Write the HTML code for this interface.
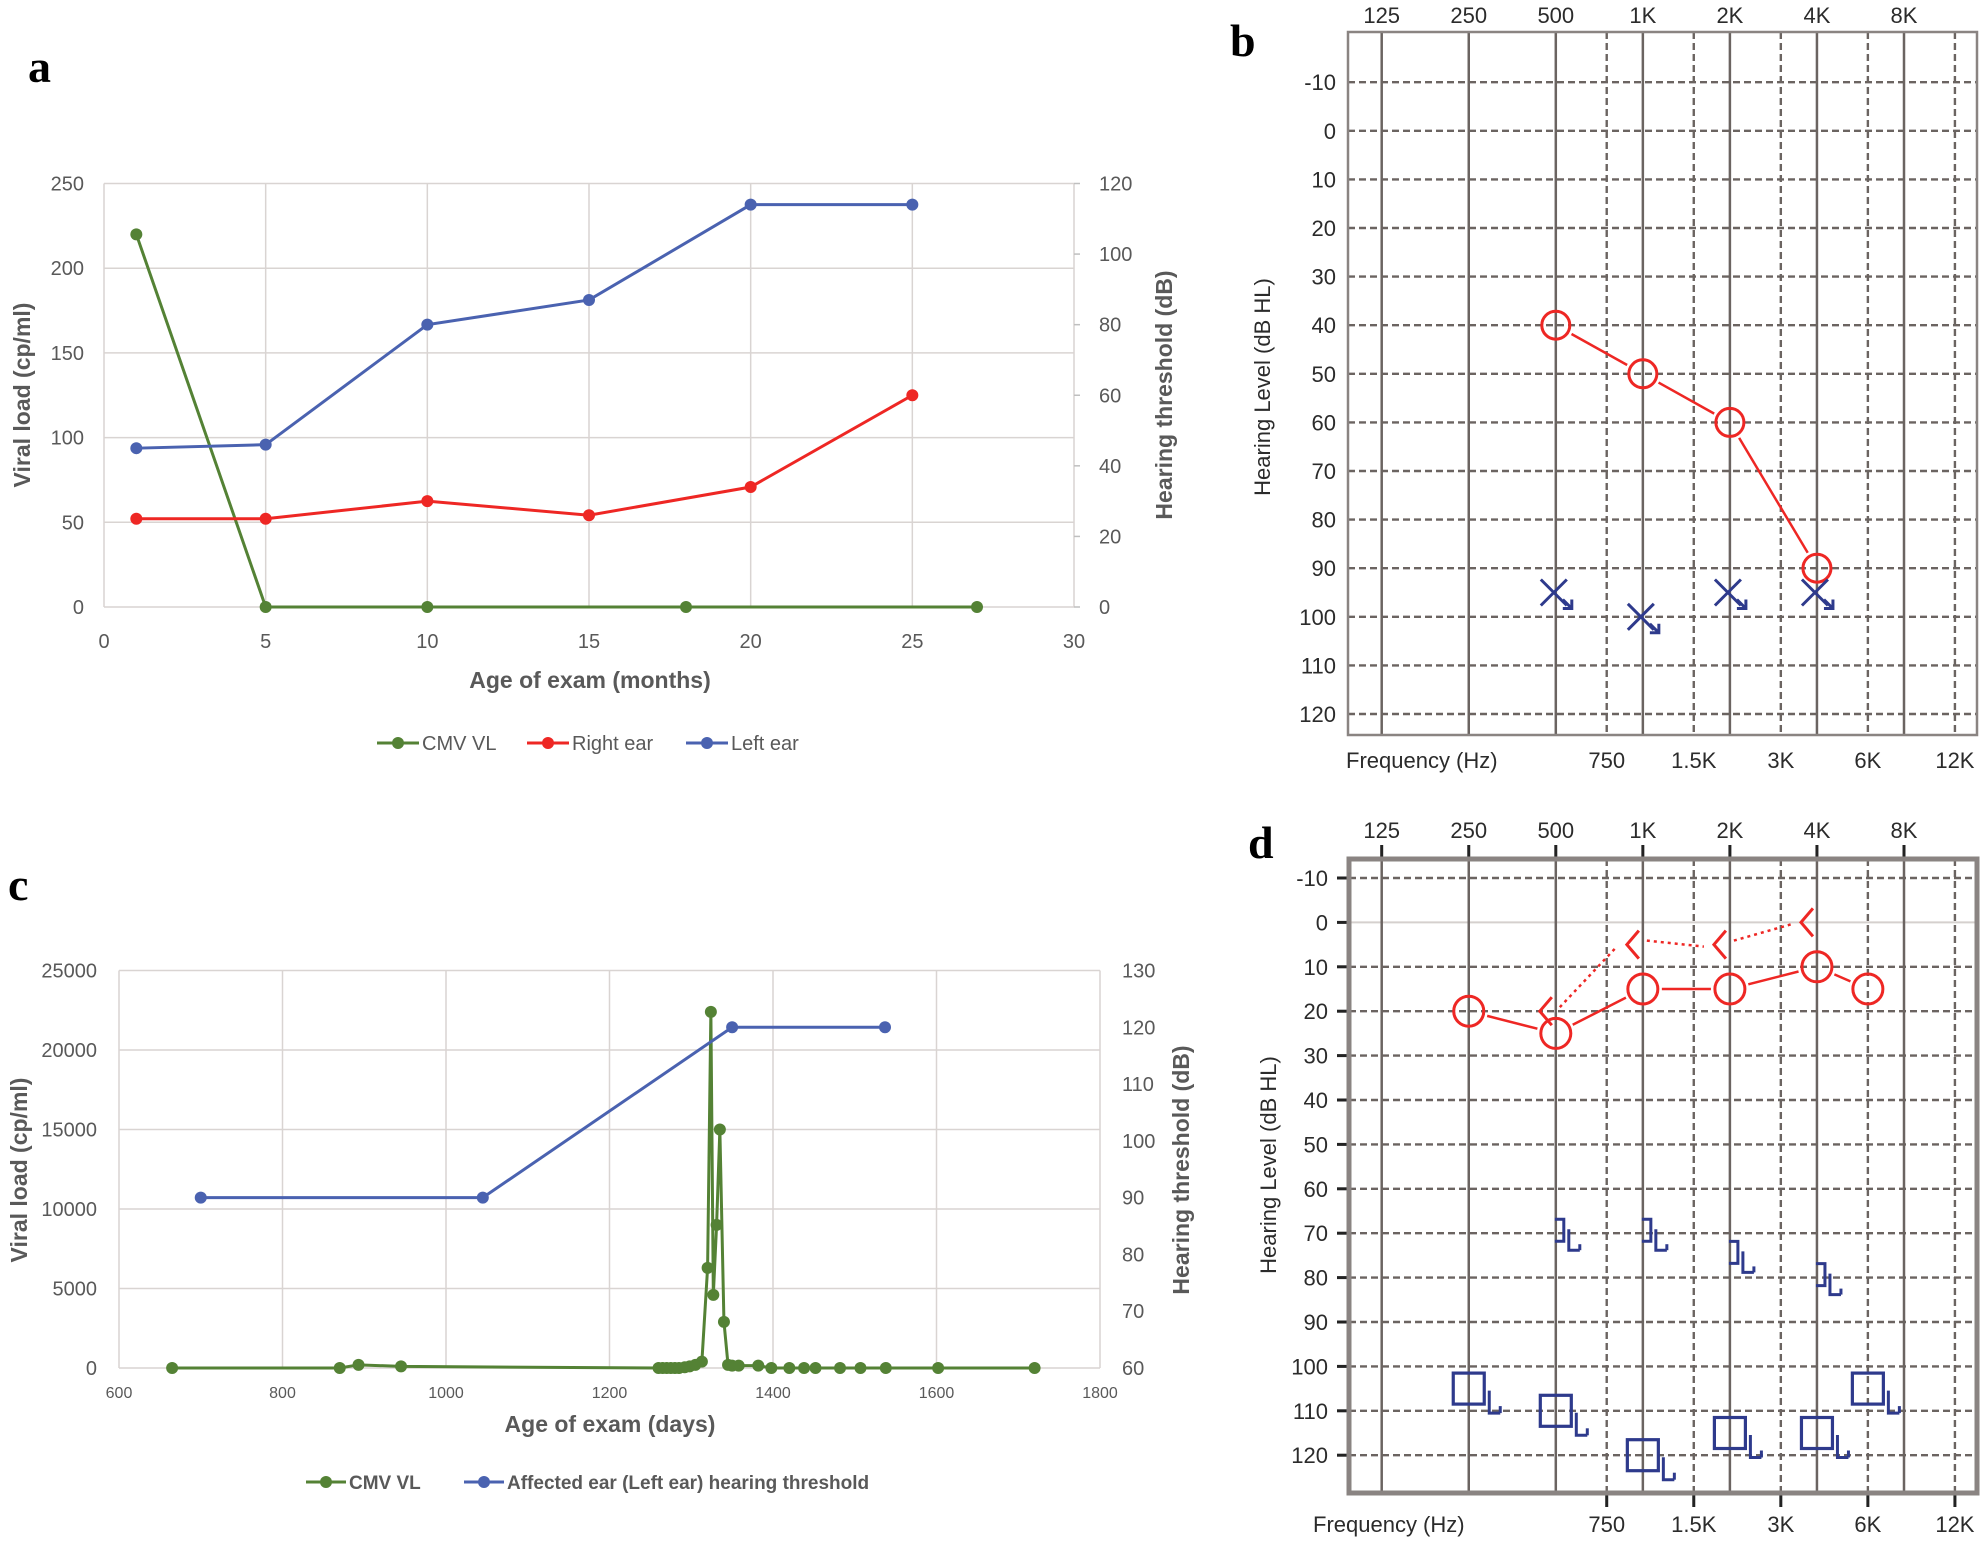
<!DOCTYPE html>
<html><head><meta charset="utf-8">
<style>
html,body{margin:0;padding:0;background:#fff;}
svg{display:block;font-family:"Liberation Sans",sans-serif;}
</style></head>
<body>
<svg id="fig" width="1984" height="1541" viewBox="0 0 1984 1541" xmlns="http://www.w3.org/2000/svg"></svg>
<script>
// ---------- Panel a data ----------
const aCmvMonths = [1, 5, 10, 18, 27];
const aCmvValues = [220, 0, 0, 0, 0];
const aEarMonths = [1, 5, 10, 15, 20, 25];
const aRightEar = [25, 25, 30, 26, 34, 60];
const aLeftEar = [45, 46, 80, 87, 114, 114];
const aXTicks = [0, 5, 10, 15, 20, 25, 30];
const aYLeftTicks = [0, 50, 100, 150, 200, 250];
const aYRightTicks = [0, 20, 40, 60, 80, 100, 120];
// ---------- Panel c data ----------
const cCmvDays = [665, 870, 893, 945, 1260, 1265, 1270, 1275, 1280, 1285, 1292, 1298, 1305, 1313, 1320, 1324, 1327, 1331, 1335, 1340, 1345, 1350, 1358, 1382, 1398, 1420, 1438, 1452, 1482, 1507, 1538, 1602, 1720];
const cCmvValues = [0, 0, 200, 100, 0, 0, 0, 0, 0, 0, 50, 100, 200, 400, 6300, 22400, 4600, 9000, 15000, 2900, 200, 150, 150, 150, 0, 0, 0, 0, 0, 0, 0, 0, 0];
const cEarDays = [700, 1045, 1350, 1537];
const cEarValues = [90, 90, 120, 120];
const cXTicks = [600, 800, 1000, 1200, 1400, 1600, 1800];
const cYLeftTicks = [0, 5000, 10000, 15000, 20000, 25000];
const cYRightTicks = [60, 70, 80, 90, 100, 110, 120, 130];
// ---------- Audiogram data ----------
const freqTop = [125, 250, 500, 1000, 2000, 4000, 8000];
const freqTopLabels = ["125", "250", "500", "1K", "2K", "4K", "8K"];
const freqMid = [750, 1500, 3000, 6000, 12000];
const freqMidLabels = ["750", "1.5K", "3K", "6K", "12K"];
const dbTicks = [-10, 0, 10, 20, 30, 40, 50, 60, 70, 80, 90, 100, 110, 120];
const bRightFreq = [500, 1000, 2000, 4000];
const bRightDb = [40, 50, 60, 90];
const bLeftFreq = [500, 1000, 2000, 4000];
const bLeftDb = [95, 100, 95, 95];
const dRightFreq = [250, 500, 1000, 2000, 4000, 6000];
const dRightDb = [20, 25, 15, 15, 10, 15];
const dBoneFreq = [500, 1000, 2000, 4000];
const dBoneDb = [20, 5, 5, 0];
const dLeftBoneFreq = [500, 1000, 2000, 4000];
const dLeftBoneDb = [70, 70, 75, 80];
const dLeftMaskFreq = [250, 500, 1000, 2000, 4000, 6000];
const dLeftMaskDb = [105, 110, 120, 115, 115, 105];

const NS = "http://www.w3.org/2000/svg";
const svg = document.getElementById("fig");
function mk(tag, attrs, parent, text) {
  const e = document.createElementNS(NS, tag);
  for (const k in attrs) e.setAttribute(k, attrs[k]);
  if (text !== undefined) e.textContent = text;
  (parent || svg).appendChild(e);
  return e;
}
function grp(name) {
  const g = mk("g", {});
  
  
  return g;
}
function pts(xs, ys, fx, fy) { return xs.map((v, i) => fx(v) + "," + fy(ys[i])).join(" "); }

// ================= Panel a =================
(function () {
  const L = 104, R = 1074, T = 183.5, B = 607;
  const x = m => L + m * (R - L) / 30;
  const yl = v => B - v * (B - T) / 250;
  const yr = h => B - h * (B - T) / 120;
  const g = grp("panel-a");
  const lab = mk("text", {x: 28, y: 82, "font-family": "Liberation Serif,serif", "font-weight": "bold", "font-size": 46, fill: "#000"}, g, "a");
  
  
  const grid = grp("panel-a-gridlines"); g.appendChild(grid);
  aYLeftTicks.forEach(v => {
    mk("line", {x1: L, x2: R, y1: yl(v), y2: yl(v), stroke: "#d9d4d2", "stroke-width": 1.5}, grid);
    const t = mk("text", {x: L - 20, y: yl(v) + 7, "text-anchor": "end", "font-size": 20, fill: "#595959"}, g, v);
    
    
  });
  aXTicks.forEach(v => {
    mk("line", {x1: x(v), x2: x(v), y1: T, y2: B, stroke: "#d9d4d2", "stroke-width": 1.5}, grid);
    const t = mk("text", {x: x(v), y: B + 41, "text-anchor": "middle", "font-size": 20, fill: "#595959"}, g, v);
    
    
  });
  aYRightTicks.forEach(v => {
    mk("line", {x1: R, x2: R + 6, y1: yr(v), y2: yr(v), stroke: "#bfbfbf", "stroke-width": 1.5}, g);
    const t = mk("text", {x: R + 25, y: yr(v) + 7, "text-anchor": "start", "font-size": 20, fill: "#595959"}, g, v);
    
    
  });
  const yt = mk("text", {transform: "translate(30,395) rotate(-90)", "text-anchor": "middle", "font-size": 23, "font-weight": "bold", fill: "#595959"}, g, "Viral load (cp/ml)");
  
  
  const yt2 = mk("text", {transform: "translate(1172,395) rotate(-90)", "text-anchor": "middle", "font-size": 23, "font-weight": "bold", fill: "#595959"}, g, "Hearing threshold (dB)");
  
  
  const xt = mk("text", {x: 590, y: 688, "text-anchor": "middle", "font-size": 23, "font-weight": "bold", fill: "#595959"}, g, "Age of exam (months)");
  
  
  const series = [
    [aCmvMonths, aCmvValues, yl, "#548235", "cmv-vl-series"],
    [aEarMonths, aRightEar, yr, "#ee2724", "right-ear-series"],
    [aEarMonths, aLeftEar, yr, "#4a62b0", "left-ear-series"]
  ];
  series.forEach(s => {
    const sg = grp(s[4]); g.appendChild(sg);
    mk("polyline", {points: pts(s[0], s[1], x, s[2]), fill: "none", stroke: s[3], "stroke-width": 3}, sg);
    s[0].forEach((m, i) => {
      const c = mk("circle", {cx: x(m), cy: s[2](s[1][i]), r: 6, fill: s[3]}, sg);
      
      
    });
  });
  const leg = grp("legend"); g.appendChild(leg);
  [["CMV VL", "#548235", 377], ["Right ear", "#ee2724", 527], ["Left ear", "#4a62b0", 686]].forEach(l => {
    const e = grp("legend-entry"); leg.appendChild(e);
    mk("line", {x1: l[2], x2: l[2] + 42, y1: 743, y2: 743, stroke: l[1], "stroke-width": 3}, e);
    mk("circle", {cx: l[2] + 21, cy: 743, r: 6, fill: l[1]}, e);
    mk("text", {x: l[2] + 45, y: 750, "font-size": 20, fill: "#595959"}, e, l[0]);
  });
})();

// ================= Panel c =================
(function () {
  const L = 119, R = 1100, T = 970.5, B = 1368;
  const x = d => L + (d - 600) * (R - L) / 1200;
  const yl = v => B - v * (B - T) / 25000;
  const yr = h => B - (h - 60) * (B - T) / 70;
  const g = grp("panel-c");
  const lab = mk("text", {x: 8, y: 900, "font-family": "Liberation Serif,serif", "font-weight": "bold", "font-size": 46, fill: "#000"}, g, "c");
  
  
  const grid = grp("panel-c-gridlines"); g.appendChild(grid);
  cYLeftTicks.forEach(v => {
    mk("line", {x1: L, x2: R, y1: yl(v), y2: yl(v), stroke: "#d9d4d2", "stroke-width": 1.5}, grid);
    const t = mk("text", {x: L - 22, y: yl(v) + 7, "text-anchor": "end", "font-size": 20, fill: "#595959"}, g, v);
    
    
  });
  cXTicks.forEach(v => {
    mk("line", {x1: x(v), x2: x(v), y1: T, y2: B, stroke: "#d9d4d2", "stroke-width": 1.5}, grid);
    const t = mk("text", {x: x(v), y: B + 30, "text-anchor": "middle", "font-size": 16, fill: "#595959"}, g, v);
    
    
  });
  cYRightTicks.forEach(v => {
    const t = mk("text", {x: R + 22, y: yr(v) + 7, "text-anchor": "start", "font-size": 20, fill: "#595959"}, g, v);
    
    
  });
  const yt = mk("text", {transform: "translate(27,1170) rotate(-90)", "text-anchor": "middle", "font-size": 23, "font-weight": "bold", fill: "#595959"}, g, "Viral load (cp/ml)");
  
  
  const yt2 = mk("text", {transform: "translate(1189,1170) rotate(-90)", "text-anchor": "middle", "font-size": 23, "font-weight": "bold", fill: "#595959"}, g, "Hearing threshold (dB)");
  
  
  const xt = mk("text", {x: 610, y: 1432, "text-anchor": "middle", "font-size": 23, "font-weight": "bold", fill: "#595959"}, g, "Age of exam (days)");
  
  
  const series = [
    [cCmvDays, cCmvValues, yl, "#548235", "cmv-vl-series"],
    [cEarDays, cEarValues, yr, "#4a62b0", "affected-ear-series"]
  ];
  series.forEach(s => {
    const sg = grp(s[4]); g.appendChild(sg);
    mk("polyline", {points: pts(s[0], s[1], x, s[2]), fill: "none", stroke: s[3], "stroke-width": 3}, sg);
    s[0].forEach((d, i) => {
      const c = mk("circle", {cx: x(d), cy: s[2](s[1][i]), r: 6, fill: s[3]}, sg);
      
      
    });
  });
  const leg = grp("legend"); g.appendChild(leg);
  [["CMV VL", "#548235", 306], ["Affected ear (Left ear) hearing threshold", "#4a62b0", 464]].forEach(l => {
    const e = grp("legend-entry"); leg.appendChild(e);
    mk("line", {x1: l[2], x2: l[2] + 40, y1: 1482, y2: 1482, stroke: l[1], "stroke-width": 3}, e);
    mk("circle", {cx: l[2] + 20, cy: 1482, r: 6, fill: l[1]}, e);
    mk("text", {x: l[2] + 43, y: 1489, "font-size": 19, "font-weight": "bold", fill: "#595959"}, e, l[0]);
  });
})();

// ================= Audiograms =================
function audiogram(opt) {
  const g = grp(opt.name);
  const {L, R, T, B, yTop, step, heavy} = opt;
  const x125 = 1381.7, oct = 87.05;
  const fx = f => x125 + Math.log2(f / 125) * oct;
  const fy = db => yTop + (db + 10) / 10 * step;
  opt.fx = fx; opt.fy = fy; opt.g = g;
  const lab = mk("text", {x: opt.labX, y: opt.labY, "font-family": "Liberation Serif,serif", "font-weight": "bold", "font-size": 46, fill: "#000"}, g, opt.label);
  
  
  const grid = grp(opt.name + "-grid"); g.appendChild(grid);
  dbTicks.forEach(db => {
    if (heavy && db === 0) {
      mk("line", {x1: L, x2: R, y1: fy(db), y2: fy(db), stroke: "#d5d0ce", "stroke-width": 2}, grid);
    } else {
      mk("line", {x1: L, x2: R, y1: fy(db), y2: fy(db), stroke: "#6b6461", "stroke-width": 2.4, "stroke-dasharray": "7,4"}, grid);
    }
    const t = mk("text", {x: opt.yLabX, y: fy(db) + 8, "text-anchor": "end", "font-size": 22, fill: "#2b2b2b"}, g, db);
    
    
    if (heavy) mk("line", {x1: L - 12, x2: L, y1: fy(db), y2: fy(db), stroke: "#222", "stroke-width": 3}, g);
  });
  freqTop.forEach((f, i) => {
    mk("line", {x1: fx(f), x2: fx(f), y1: T, y2: B, stroke: "#6b6461", "stroke-width": 2.5}, grid);
    const t = mk("text", {x: fx(f), y: opt.topLabY, "text-anchor": "middle", "font-size": 22, fill: "#2b2b2b"}, g, freqTopLabels[i]);
    
    
    if (heavy) mk("line", {x1: fx(f), x2: fx(f), y1: T - 14, y2: T, stroke: "#222", "stroke-width": 3}, g);
  });
  freqMid.forEach((f, i) => {
    mk("line", {x1: fx(f), x2: fx(f), y1: T, y2: B, stroke: "#6b6461", "stroke-width": 2.4, "stroke-dasharray": "7,4"}, grid);
    const t = mk("text", {x: fx(f), y: opt.botLabY, "text-anchor": "middle", "font-size": 22, fill: "#2b2b2b"}, g, freqMidLabels[i]);
    
    
    if (heavy) mk("line", {x1: fx(f), x2: fx(f), y1: B, y2: B + 14, stroke: "#222", "stroke-width": 3}, g);
  });
  const fr = mk("rect", {x: L, y: T, width: R - L, height: B - T, fill: "none", stroke: "#8a8482", "stroke-width": heavy ? 5 : 2.5}, g);
  
  
  const ft = mk("text", {x: opt.freqX, y: opt.botLabY, "font-size": 22, fill: "#2b2b2b"}, g, "Frequency (Hz)");
  
  
  const yt = mk("text", {transform: `translate(${opt.yTitleX},${opt.yTitleY}) rotate(-90)`, "text-anchor": "middle", "font-size": 22, fill: "#2b2b2b"}, g, "Hearing Level (dB HL)");
  
  
  return opt;
}
const RED = "#ee2724", BLUE = "#2e3a8c";
function circleSeries(o, fr, db, r) {
  const sg = grp("right-ear-air-series"); o.g.appendChild(sg);
  for (let i = 0; i < fr.length - 1; i++) {
    const x1 = o.fx(fr[i]), y1 = o.fy(db[i]), x2 = o.fx(fr[i + 1]), y2 = o.fy(db[i + 1]);
    const d = Math.hypot(x2 - x1, y2 - y1), ux = (x2 - x1) / d, uy = (y2 - y1) / d;
    mk("line", {x1: x1 + ux * (r + 4), y1: y1 + uy * (r + 4), x2: x2 - ux * (r + 4), y2: y2 - uy * (r + 4), stroke: RED, "stroke-width": 2.5}, sg);
  }
  fr.forEach((f, i) => {
    const c = mk("circle", {cx: o.fx(f), cy: o.fy(db[i]), r: r, fill: "none", stroke: RED, "stroke-width": 3}, sg);
    
    
  });
}
function arrow(parent, x, y, len, color) {
  mk("line", {x1: x, y1: y, x2: x + len, y2: y + len, stroke: color, "stroke-width": 3}, parent);
  mk("polyline", {points: `${x + len - 9},${y + len} ${x + len},${y + len} ${x + len},${y + len - 9}`, fill: "none", stroke: color, "stroke-width": 3}, parent);
}

// Panel b
const ob = audiogram({name: "panel-b", label: "b", labX: 1230, labY: 56, L: 1348, R: 1977, T: 32, B: 735, yTop: 82.2, step: 48.6, heavy: false, yLabX: 1336, topLabY: 23, botLabY: 768, freqX: 1346, yTitleX: 1270, yTitleY: 387});
circleSeries(ob, bRightFreq, bRightDb, 14);
(function () {
  const sg = grp("left-ear-masked-x-series"); ob.g.appendChild(sg);
  bLeftFreq.forEach((f, i) => {
    const cx = ob.fx(f) - 2, cy = ob.fy(bLeftDb[i]), s = 13;
    const m = grp("left-ear-x-marker"); sg.appendChild(m);
    mk("line", {x1: cx - s, y1: cy - s, x2: cx + s, y2: cy + s, stroke: BLUE, "stroke-width": 3}, m);
    mk("line", {x1: cx - s, y1: cy + s, x2: cx + s, y2: cy - s, stroke: BLUE, "stroke-width": 3}, m);
    arrow(m, cx + s - 4, cy + s - 6, 9, BLUE);
  });
})();

// Panel d
const od = audiogram({name: "panel-d", label: "d", labX: 1248, labY: 858, L: 1349, R: 1977, T: 859, B: 1493, yTop: 878, step: 44.4, heavy: true, yLabX: 1328, topLabY: 838, botLabY: 1532, freqX: 1313, yTitleX: 1276, yTitleY: 1165});
(function () {
  const bg = grp("right-ear-bone-series"); od.g.appendChild(bg);
  const bx = f => od.fx(f) - 10;
  for (let i = 0; i < dBoneFreq.length - 1; i++) {
    const x1 = bx(dBoneFreq[i]) + 14, y1 = od.fy(dBoneDb[i]) - 4, x2 = bx(dBoneFreq[i + 1]) - 16, y2 = od.fy(dBoneDb[i + 1]) + 2;
    mk("line", {x1: x1, y1: y1, x2: x2, y2: y2, stroke: RED, "stroke-width": 2.5, "stroke-dasharray": "3,4"}, bg);
  }
  dBoneFreq.forEach((f, i) => {
    const x = bx(f), y = od.fy(dBoneDb[i]);
    const p = mk("polyline", {points: `${x + 6},${y - 14} ${x - 6},${y} ${x + 6},${y + 14}`, fill: "none", stroke: RED, "stroke-width": 3}, bg);
    
    
  });
})();
circleSeries(od, dRightFreq, dRightDb, 15);
(function () {
  const sg = grp("left-ear-bone-masked-series"); od.g.appendChild(sg);
  dLeftBoneFreq.forEach((f, i) => {
    const x = od.fx(f) + 8, y = od.fy(dLeftBoneDb[i]);
    const m = grp("left-bone-bracket"); sg.appendChild(m);
    mk("polyline", {points: `${x - 9},${y - 14} ${x},${y - 14} ${x},${y + 8} ${x - 9},${y + 8}`, fill: "none", stroke: BLUE, "stroke-width": 3}, m);
    mk("polyline", {points: `${x + 5},${y - 4} ${x + 5},${y + 17} ${x + 16},${y + 17}`, fill: "none", stroke: BLUE, "stroke-width": 3}, m);
    mk("polyline", {points: `${x + 16},${y + 11} ${x + 16},${y + 17}`, fill: "none", stroke: BLUE, "stroke-width": 3}, m);
  });
  const qg = grp("left-ear-masked-square-series"); od.g.appendChild(qg);
  dLeftMaskFreq.forEach((f, i) => {
    const x = od.fx(f), y = od.fy(dLeftMaskDb[i]), s = 15.5;
    const m = grp("left-square-marker"); sg.appendChild(m);
    mk("rect", {x: x - s, y: y - s, width: 2 * s, height: 2 * s, fill: "none", stroke: BLUE, "stroke-width": 3.2}, m);
    mk("polyline", {points: `${x + s + 5},${y + 2} ${x + s + 5},${y + s + 9} ${x + s + 16},${y + s + 9}`, fill: "none", stroke: BLUE, "stroke-width": 3}, m);
    mk("polyline", {points: `${x + s + 16},${y + s + 2} ${x + s + 16},${y + s + 9}`, fill: "none", stroke: BLUE, "stroke-width": 3}, m);
  });
})();
</script>
</body></html>
